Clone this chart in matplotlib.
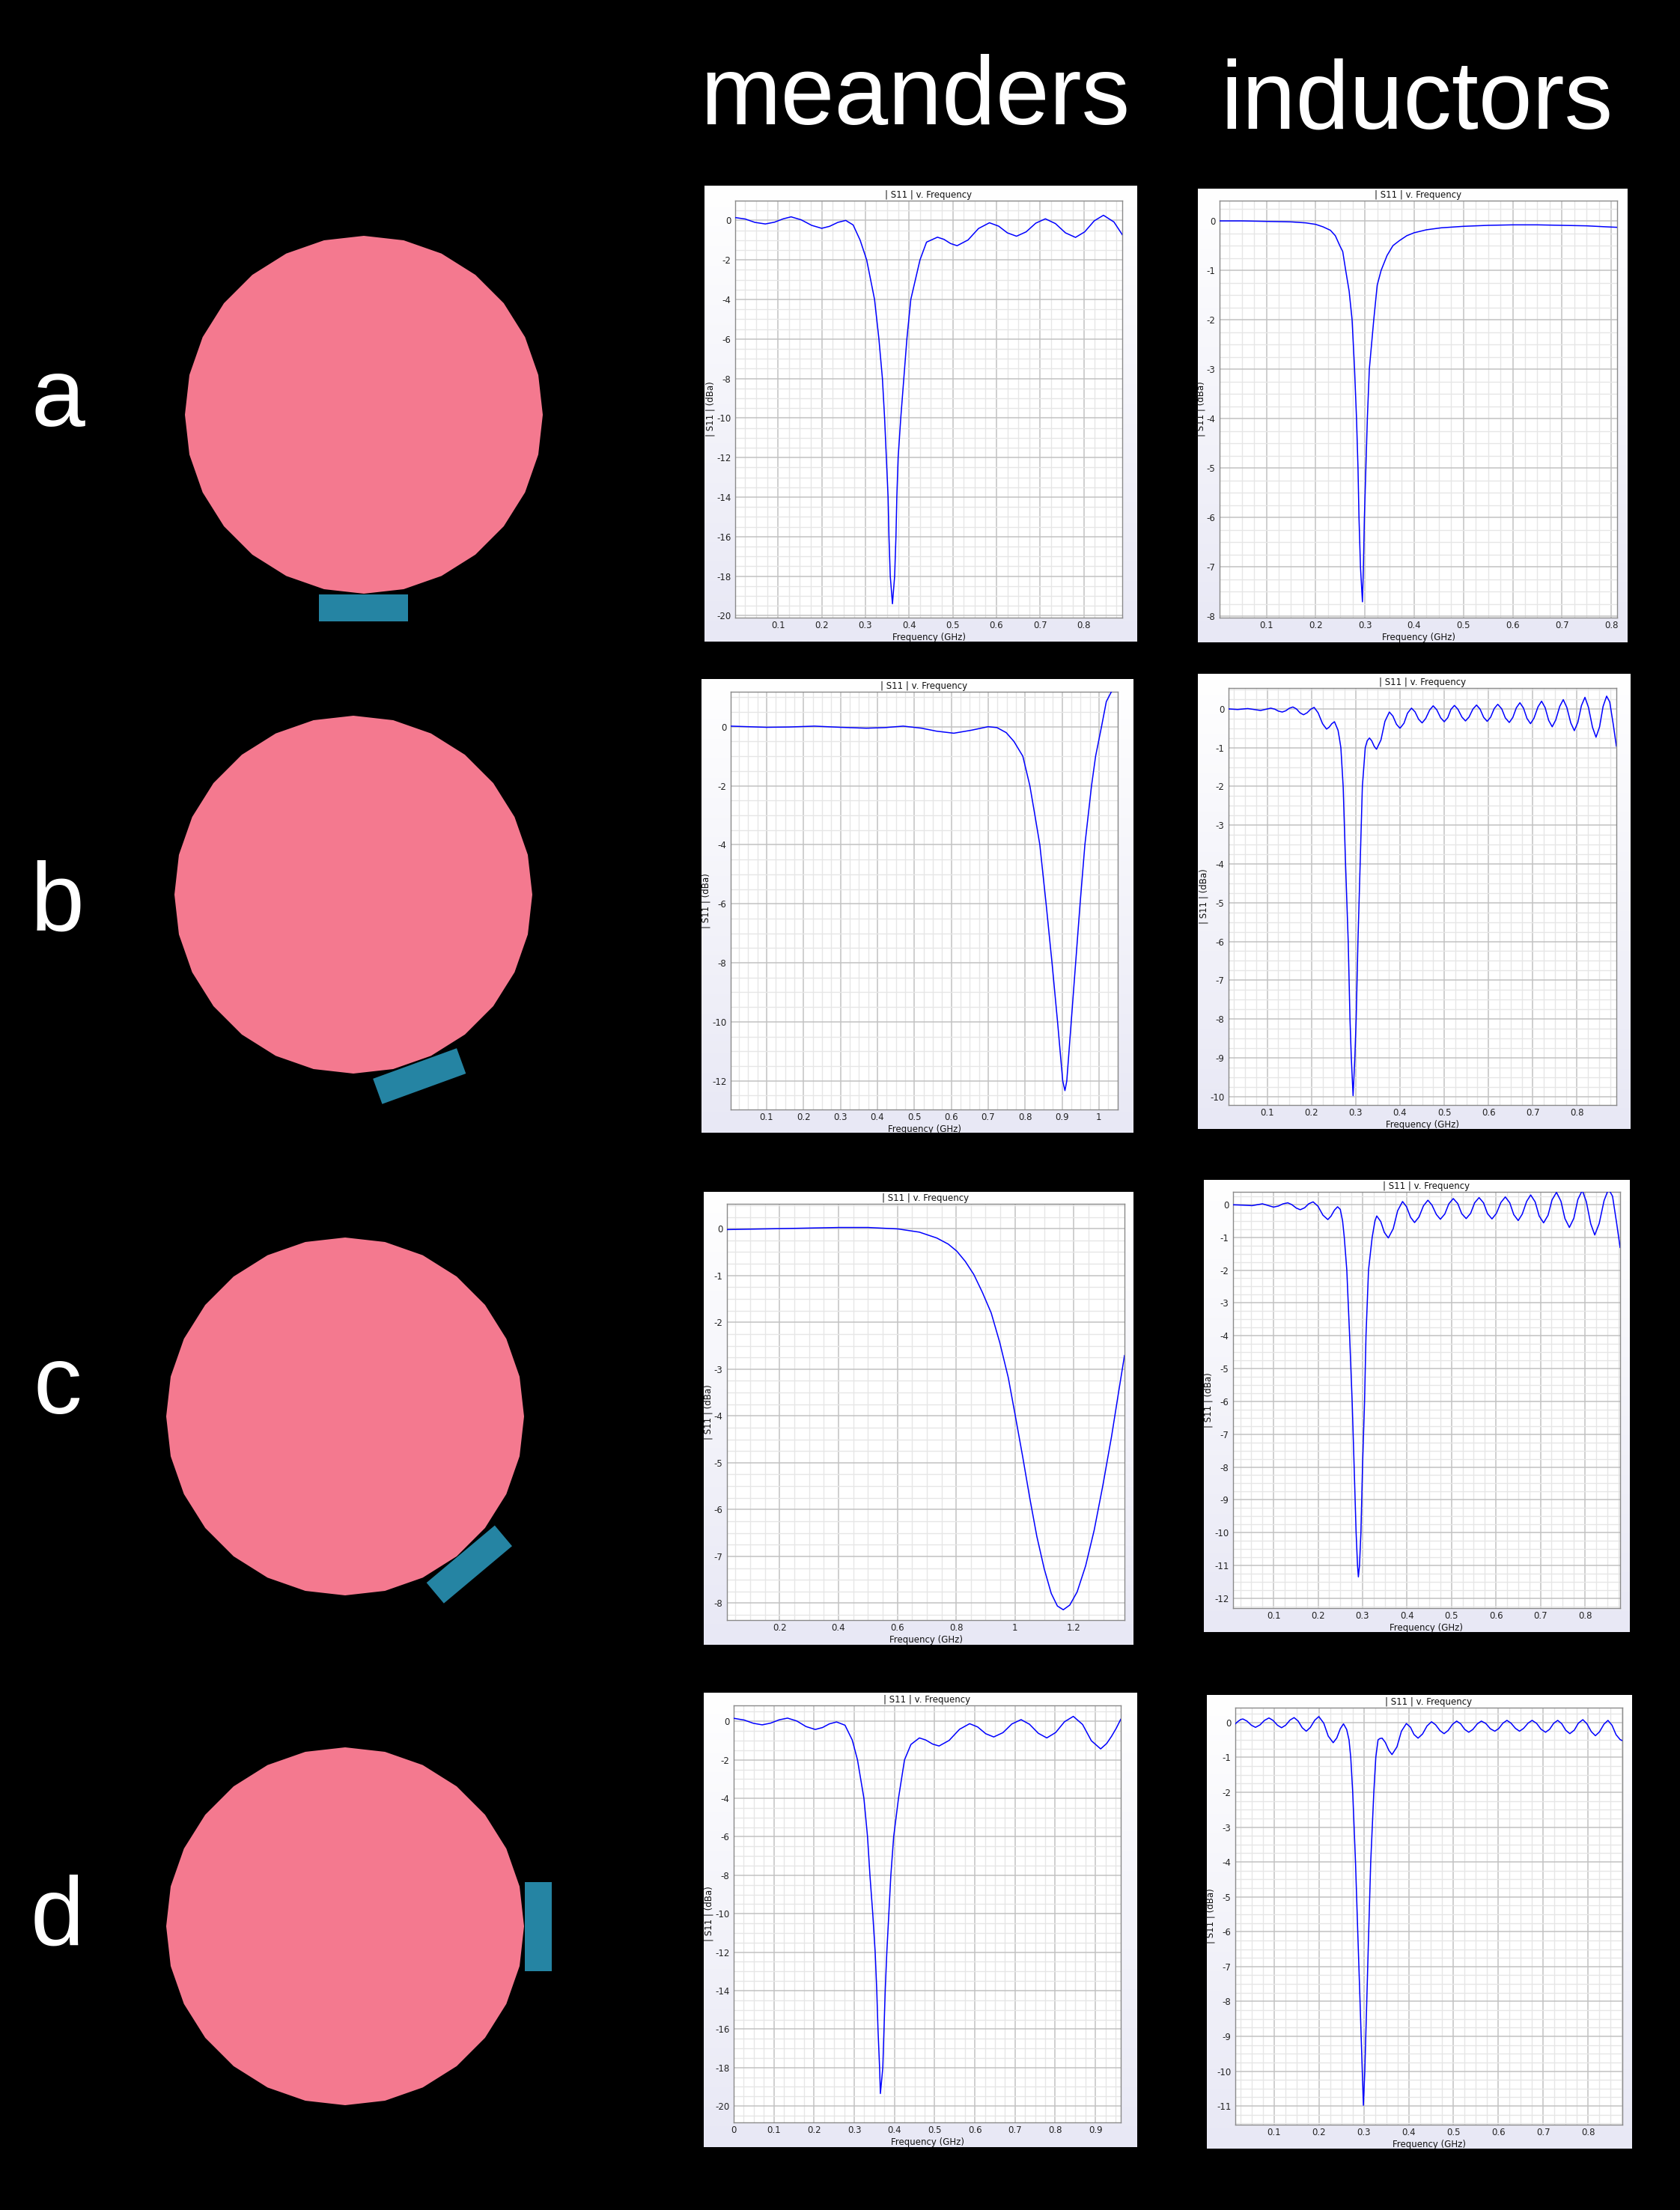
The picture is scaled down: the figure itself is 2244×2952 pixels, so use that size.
import numpy as np
import matplotlib
matplotlib.use('Agg')
import matplotlib.pyplot as plt
from matplotlib.patches import RegularPolygon, Rectangle
from matplotlib.colors import LinearSegmentedColormap
from matplotlib.ticker import MultipleLocator, AutoMinorLocator, FuncFormatter
from matplotlib.transforms import Affine2D

plt.rcParams['axes.unicode_minus'] = False
plt.rcParams['font.family'] = ['DejaVu Sans']

W, H = 2244, 2952

# labels
row_labels = ['a', 'b', 'c', 'd']
col_labels = ['meanders', 'inductors']
plot_title = '| S11 | v. Frequency'
x_title = 'Frequency (GHz)'
y_title = '| S11 | (dBa)'

# feed position around the patch (degrees from the bottom)
feed_angles = [0, 20, 40, 90]

# S11 curves (GHz, dB)
am_freq = [0.000, 0.025, 0.047, 0.071, 0.092, 0.112, 0.130, 0.153, 0.177, 0.200,
           0.218, 0.237, 0.255, 0.272, 0.288, 0.303, 0.321, 0.331, 0.339, 0.344,
           0.348, 0.352, 0.354, 0.357, 0.362, 0.367, 0.370, 0.372, 0.375, 0.381,
           0.388, 0.395, 0.404, 0.425, 0.440, 0.465, 0.480, 0.495, 0.510, 0.535,
           0.559, 0.584, 0.605, 0.625, 0.646, 0.668, 0.690, 0.712, 0.735, 0.758,
           0.781, 0.802, 0.824, 0.845, 0.869, 0.888]
am_s11 = [0.15, 0.07, -0.10, -0.18, -0.09, 0.08, 0.18, 0.03, -0.25, -0.40,
          -0.30, -0.10, 0.00, -0.23, -1.00, -2.00, -4.00, -6.00, -8.00, -10.00,
          -12.00, -14.00, -16.00, -18.00, -19.40, -18.00, -16.00, -14.00, -12.00, -10.00,
          -8.00, -6.00, -4.00, -2.00, -1.10, -0.85, -0.96, -1.17, -1.28, -0.99,
          -0.41, -0.12, -0.29, -0.63, -0.80, -0.58, -0.14, 0.08, -0.16, -0.63,
          -0.86, -0.58, -0.02, 0.26, -0.08, -0.72]

ai_freq = [0.005, 0.050, 0.100, 0.150, 0.180, 0.200, 0.215, 0.230, 0.240, 0.249,
           0.255, 0.261, 0.268, 0.274, 0.279, 0.283, 0.286, 0.288, 0.291, 0.295,
           0.297, 0.299, 0.302, 0.305, 0.309, 0.318, 0.325, 0.333, 0.345, 0.357,
           0.370, 0.385, 0.400, 0.425, 0.455, 0.500, 0.550, 0.600, 0.650, 0.700,
           0.750, 0.790, 0.812]
ai_s11 = [0.00, 0.00, -0.01, -0.02, -0.04, -0.07, -0.12, -0.19, -0.30, -0.50,
          -0.62, -1.00, -1.42, -2.00, -3.00, -4.00, -5.00, -6.00, -7.00, -7.71,
          -7.00, -6.00, -5.00, -4.00, -3.00, -2.00, -1.30, -1.00, -0.70, -0.50,
          -0.40, -0.30, -0.24, -0.18, -0.14, -0.11, -0.09, -0.08, -0.08, -0.09,
          -0.10, -0.12, -0.13]

bm_freq = [0.003, 0.100, 0.160, 0.230, 0.300, 0.370, 0.420, 0.470, 0.520, 0.560,
           0.607, 0.654, 0.700, 0.724, 0.749, 0.770, 0.794, 0.813, 0.826, 0.840,
           0.857, 0.873, 0.888, 0.902, 0.908, 0.913, 0.925, 0.937, 0.949, 0.962,
           0.980, 0.991, 1.007, 1.020, 1.034]
bm_s11 = [0.02, -0.02, -0.01, 0.02, -0.02, -0.05, -0.03, 0.02, -0.05, -0.15,
          -0.22, -0.12, 0.00, -0.03, -0.20, -0.50, -1.00, -2.00, -2.95, -4.00,
          -6.00, -8.00, -10.00, -12.00, -12.33, -12.00, -10.00, -8.00, -6.00, -4.00,
          -2.00, -1.00, 0.00, 0.85, 1.19]

bi_freq = [0.013, 0.033, 0.056, 0.085, 0.108, 0.117, 0.125, 0.134, 0.142, 0.150,
           0.158, 0.166, 0.174, 0.182, 0.190, 0.198, 0.206, 0.215, 0.225, 0.234,
           0.240, 0.246, 0.252, 0.260, 0.263, 0.2664, 0.2716, 0.277, 0.283, 0.287,
           0.290, 0.294, 0.298, 0.301, 0.305, 0.310, 0.315, 0.3215, 0.326, 0.331,
           0.336, 0.342, 0.347, 0.357, 0.366, 0.376, 0.384, 0.392, 0.400, 0.409,
           0.417, 0.426, 0.434, 0.442, 0.450, 0.458, 0.467, 0.475, 0.483, 0.492,
           0.500, 0.508, 0.515, 0.523, 0.531, 0.540, 0.548, 0.556, 0.565, 0.573,
           0.581, 0.589, 0.597, 0.605, 0.613, 0.621, 0.630, 0.638, 0.647, 0.655,
           0.663, 0.671, 0.679, 0.687, 0.695, 0.703, 0.712, 0.720, 0.728, 0.736,
           0.744, 0.752, 0.761, 0.769, 0.777, 0.786, 0.794, 0.802, 0.810, 0.818,
           0.826, 0.835, 0.843, 0.851, 0.859, 0.867, 0.874, 0.882, 0.889]
bi_s11 = [0.00, -0.015, 0.01, -0.04, 0.02, -0.005, -0.055, -0.08, -0.047, 0.018,
          0.05, 0.00, -0.10, -0.15, -0.10, -0.01, 0.04, -0.10, -0.38, -0.52,
          -0.47, -0.38, -0.33, -0.55, -0.75, -1.00, -2.00, -4.00, -6.00, -8.00,
          -9.00, -9.98, -9.00, -8.00, -6.00, -4.00, -2.00, -1.00, -0.82, -0.75,
          -0.82, -0.97, -1.04, -0.80, -0.32, -0.08, -0.185, -0.395, -0.50, -0.37,
          -0.11, 0.02, -0.075, -0.265, -0.36, -0.25, -0.03, 0.08, -0.02, -0.23,
          -0.33, -0.225, -0.015, 0.09, -0.01, -0.21, -0.31, -0.21, 0.00, 0.10,
          -0.005, -0.215, -0.32, -0.21, 0.01, 0.12, 0.00, -0.23, -0.35, -0.22,
          0.03, 0.16, 0.025, -0.245, -0.38, -0.235, 0.055, 0.20, 0.035, -0.295,
          -0.46, -0.285, 0.065, 0.24, 0.04, -0.36, -0.56, -0.345, 0.085, 0.30,
          0.04, -0.47, -0.73, -0.465, 0.065, 0.33, 0.18, -0.40, -0.96]

cm_freq = [0.021, 0.200, 0.403, 0.500, 0.602, 0.675, 0.734, 0.773, 0.802, 0.831,
           0.860, 0.889, 0.919, 0.948, 0.977, 1.001, 1.026, 1.050, 1.074, 1.099,
           1.123, 1.144, 1.164, 1.186, 1.211, 1.240, 1.269, 1.298, 1.328, 1.352,
           1.372]
cm_s11 = [-0.02, 0.00, 0.025, 0.025, -0.006, -0.075, -0.20, -0.33, -0.48, -0.70,
          -0.98, -1.36, -1.80, -2.43, -3.18, -4.00, -4.87, -5.75, -6.57, -7.26,
          -7.79, -8.06, -8.14, -8.04, -7.76, -7.20, -6.44, -5.50, -4.44, -3.49,
          -2.71]

ci_freq = [0.009, 0.030, 0.052, 0.075, 0.100, 0.111, 0.121, 0.132, 0.141, 0.151,
           0.160, 0.170, 0.179, 0.189, 0.200, 0.211, 0.222, 0.229, 0.237, 0.244,
           0.250, 0.2552, 0.259, 0.2647, 0.271, 0.2767, 0.2812, 0.2856, 0.2888, 0.2907,
           0.2932, 0.2964, 0.300, 0.3046, 0.3078, 0.3135, 0.3217, 0.328, 0.332, 0.341,
           0.349, 0.358, 0.369, 0.379, 0.390, 0.399, 0.408, 0.417, 0.427, 0.437,
           0.447, 0.456, 0.466, 0.475, 0.485, 0.494, 0.504, 0.514, 0.523, 0.533,
           0.543, 0.552, 0.562, 0.572, 0.581, 0.591, 0.601, 0.611, 0.621, 0.631,
           0.640, 0.650, 0.659, 0.669, 0.678, 0.688, 0.697, 0.707, 0.717, 0.726,
           0.736, 0.746, 0.755, 0.765, 0.775, 0.784, 0.794, 0.803, 0.813, 0.822,
           0.832, 0.843, 0.853, 0.862, 0.871, 0.879]
ci_s11 = [-0.01, -0.02, -0.035, 0.02, -0.08, -0.047, 0.018, 0.05, -0.003, -0.108,
          -0.16, -0.10, 0.02, 0.08, -0.055, -0.325, -0.46, -0.36, -0.17, -0.07,
          -0.15, -0.50, -1.00, -2.00, -4.00, -6.00, -8.00, -10.00, -11.00, -11.35,
          -11.00, -10.00, -8.00, -6.00, -4.00, -2.00, -1.00, -0.50, -0.35, -0.52,
          -0.85, -1.02, -0.74, -0.19, 0.09, -0.07, -0.39, -0.55, -0.38, -0.04,
          0.13, -0.015, -0.305, -0.45, -0.29, 0.02, 0.18, 0.03, -0.28, -0.43,
          -0.27, 0.05, 0.21, 0.05, -0.28, -0.44, -0.27, 0.06, 0.23, 0.05,
          -0.31, -0.49, -0.295, 0.095, 0.29, 0.08, -0.35, -0.56, -0.33, 0.14,
          0.37, 0.10, -0.43, -0.70, -0.42, 0.15, 0.43, 0.09, -0.59, -0.93,
          -0.58, 0.12, 0.47, 0.25, -0.55, -1.31]

dm_freq = [0.000, 0.026, 0.049, 0.071, 0.092, 0.113, 0.134, 0.157, 0.180, 0.203,
           0.221, 0.238, 0.256, 0.277, 0.295, 0.308, 0.324, 0.333, 0.339, 0.346,
           0.352, 0.356, 0.359, 0.363, 0.365, 0.371, 0.374, 0.377, 0.381, 0.386,
           0.391, 0.398, 0.410, 0.425, 0.441, 0.462, 0.478, 0.495, 0.511, 0.536,
           0.562, 0.587, 0.607, 0.627, 0.647, 0.670, 0.692, 0.715, 0.736, 0.758,
           0.779, 0.801, 0.823, 0.845, 0.868, 0.890, 0.913, 0.928, 0.940, 0.952,
           0.963]
dm_s11 = [0.16, 0.07, -0.10, -0.18, -0.09, 0.08, 0.17, 0.02, -0.27, -0.42,
          -0.32, -0.13, -0.03, -0.20, -0.97, -2.00, -4.00, -6.00, -8.00, -10.00,
          -12.00, -14.00, -16.00, -18.00, -19.35, -18.00, -16.00, -14.00, -12.00, -10.00,
          -8.00, -6.00, -4.00, -2.00, -1.20, -0.86, -0.97, -1.18, -1.28, -0.99,
          -0.41, -0.12, -0.29, -0.64, -0.81, -0.585, -0.135, 0.09, -0.15, -0.62,
          -0.86, -0.58, -0.02, 0.26, -0.16, -1.01, -1.43, -1.15, -0.78, -0.35,
          0.11]

di_freq = [0.014, 0.020, 0.026, 0.031, 0.040, 0.050, 0.059, 0.069, 0.079, 0.089,
           0.098, 0.108, 0.117, 0.126, 0.136, 0.145, 0.154, 0.163, 0.172, 0.181,
           0.191, 0.200, 0.211, 0.221, 0.232, 0.240, 0.248, 0.255, 0.262, 0.2673,
           0.2711, 0.2755, 0.2817, 0.2867, 0.2918, 0.2968, 0.2993, 0.3024, 0.3068, 0.3111,
           0.3156, 0.3225, 0.3269, 0.3319, 0.336, 0.341, 0.348, 0.356, 0.363, 0.374,
           0.384, 0.395, 0.404, 0.412, 0.421, 0.431, 0.441, 0.451, 0.460, 0.470,
           0.479, 0.488, 0.498, 0.507, 0.516, 0.525, 0.534, 0.543, 0.553, 0.562,
           0.572, 0.582, 0.592, 0.601, 0.610, 0.619, 0.628, 0.638, 0.647, 0.656,
           0.666, 0.675, 0.685, 0.695, 0.705, 0.714, 0.723, 0.732, 0.741, 0.750,
           0.759, 0.769, 0.778, 0.788, 0.797, 0.807, 0.816, 0.825, 0.835, 0.844,
           0.853, 0.862, 0.871, 0.876]
di_s11 = [-0.04, 0.03, 0.085, 0.10, 0.04, -0.08, -0.14, -0.07, 0.06, 0.13,
          0.06, -0.08, -0.15, -0.08, 0.07, 0.14, 0.04, -0.15, -0.25, -0.145,
          0.065, 0.17, -0.02, -0.39, -0.58, -0.445, -0.175, -0.04, -0.20, -0.50,
          -1.00, -2.00, -4.00, -6.00, -8.00, -10.00, -10.98, -10.00, -8.00, -6.00,
          -4.00, -2.00, -1.00, -0.50, -0.46, -0.45, -0.57, -0.80, -0.92, -0.70,
          -0.25, -0.03, -0.135, -0.345, -0.45, -0.33, -0.10, 0.02, -0.065, -0.235,
          -0.32, -0.23, -0.05, 0.04, -0.04, -0.20, -0.28, -0.20, -0.04, 0.04,
          -0.03, -0.18, -0.25, -0.17, -0.02, 0.06, -0.02, -0.17, -0.25, -0.17,
          -0.02, 0.06, -0.025, -0.195, -0.28, -0.195, -0.025, 0.06, -0.035, -0.225,
          -0.32, -0.22, -0.02, 0.08, -0.035, -0.265, -0.38, -0.27, -0.05, 0.06,
          -0.08, -0.35, -0.49, -0.52]

# one entry per panel: data, frame box, axes box (pixels), limits, tick steps
panels = [
    (am_freq, am_s11, (941, 248, 1518, 857), (982, 268, 1499, 825), (0.002, 0.888), (-20.1, 1.0), 0.1, 2),
    (ai_freq, ai_s11, (1600, 252, 2174, 858), (1629, 268, 2160, 825), (0.005, 0.812), (-8.03, 0.41), 0.1, 1),
    (bm_freq, bm_s11, (937, 907, 1514, 1513), (976, 924, 1493, 1482), (0.003, 1.051), (-12.97, 1.185), 0.1, 2),
    (bi_freq, bi_s11, (1600, 900, 2178, 1508), (1641, 919, 2159, 1476), (0.0126, 0.889), (-10.22, 0.54), 0.1, 1),
    (cm_freq, cm_s11, (940, 1592, 1514, 2197), (971, 1608, 1502, 2164), (0.021, 1.372), (-8.36, 0.53), 0.2, 1),
    (ci_freq, ci_s11, (1608, 1576, 2177, 2180), (1647, 1592, 2164, 2148), (0.009, 0.879), (-12.3, 0.385), 0.1, 1),
    (dm_freq, dm_s11, (940, 2261, 1519, 2868), (980, 2278, 1497, 2835), (0.0, 0.963), (-20.85, 0.83), 0.1, 2),
    (di_freq, di_s11, (1612, 2264, 2180, 2870), (1650, 2281, 2167, 2838), (0.014, 0.876), (-11.535, 0.425), 0.1, 1),
]

patch_x = [486, 472, 461, 461]
patch_y = [554, 1195, 1892, 2573]
patch_r = 239
feed_w, feed_h = 119, 36
row_label_y = [569, 1243, 1888, 2598]
col_label_x = [1222, 1892]
col_label_y = [166, 172]

pink = '#f4798f'
teal = '#2584a3'


def px_box(box):
    x0, y0, x1, y1 = box
    return [x0 / W, 1 - y1 / H, (x1 - x0) / W, (y1 - y0) / H]


def fmt(v, pos):
    return '%g' % (round(v, 6) + 0.0)


fig = plt.figure(figsize=(W / 100, H / 100), dpi=100, facecolor='black')

# background layer in pixel coordinates
bg = fig.add_axes([0, 0, 1, 1])
bg.set_xlim(0, W)
bg.set_ylim(H, 0)
bg.set_facecolor('black')
bg.axis('off')

for i in range(4):
    cx, cy = patch_x[i], patch_y[i]
    bg.add_patch(RegularPolygon((cx, cy), numVertices=28, radius=patch_r,
                                color=pink, lw=0))
    th = np.deg2rad(feed_angles[i])
    d = patch_r + feed_h / 2 + 1
    fx, fy = cx + d * np.sin(th), cy + d * np.cos(th)
    rect = Rectangle((-feed_w / 2, -feed_h / 2), feed_w, feed_h, color=teal, lw=0)
    rect.set_transform(Affine2D().rotate_deg(-feed_angles[i]).translate(fx, fy) + bg.transData)
    bg.add_patch(rect)
    bg.text(77, row_label_y[i], row_labels[i], color='white', fontsize=93,
            family='Liberation Sans', ha='center', va='baseline')

for x, y, s in zip(col_label_x, col_label_y, col_labels):
    bg.text(x, y, s, color='white', fontsize=93, family='Liberation Sans',
            ha='center', va='baseline')

grad = LinearSegmentedColormap.from_list('frame', ['#ffffff', '#e8e8f5'])

for freq, s11, frame, box, xlim, ylim, xstep, ystep in panels:
    fr = fig.add_axes(px_box(frame))
    fr.imshow(np.linspace(0, 1, 256)[:, None], aspect='auto', cmap=grad,
              extent=[0, 1, 0, 1], origin='upper')
    fr.axis('off')

    ax = fig.add_axes(px_box(box))
    ax.set_facecolor('white')
    ax.plot(freq, s11, color='#0000ff', lw=1.1, zorder=3)
    ax.set_xlim(*xlim)
    ax.set_ylim(*ylim)
    ax.xaxis.set_major_locator(MultipleLocator(xstep))
    ax.yaxis.set_major_locator(MultipleLocator(ystep))
    ax.xaxis.set_minor_locator(AutoMinorLocator(4))
    ax.yaxis.set_minor_locator(AutoMinorLocator(4))
    ax.xaxis.set_major_formatter(FuncFormatter(fmt))
    ax.yaxis.set_major_formatter(FuncFormatter(fmt))
    ax.grid(which='major', color='#c2c2c2', lw=1.1)
    ax.grid(which='minor', color='#e6e6e6', lw=1.0)
    ax.set_axisbelow(True)
    ax.tick_params(which='both', length=0, labelsize=8.5, colors='#222222')
    ax.tick_params(axis='x', pad=3)
    ax.tick_params(axis='y', pad=4)
    for sp in ax.spines.values():
        sp.set_color('#8a8a8a')
        sp.set_linewidth(1.0)
    ax.set_title(plot_title, fontsize=8.5, pad=3, color='#111111')
    ax.set_xlabel(x_title, fontsize=8.5, labelpad=2, color='#111111')
    ax.set_ylabel(y_title, fontsize=8.5, labelpad=1, color='#111111')

fig.savefig('out.png', dpi=100, facecolor='black')
